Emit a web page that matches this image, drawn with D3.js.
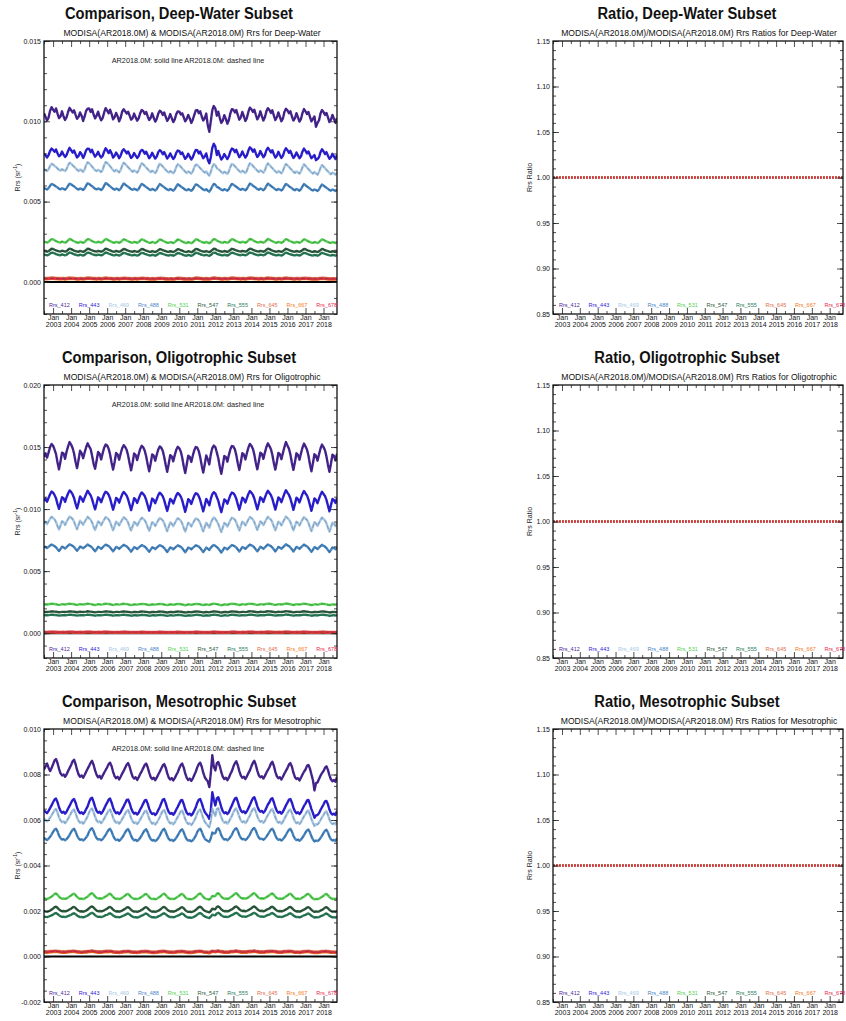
<!DOCTYPE html>
<html>
<head>
<meta charset="utf-8">
<script src="https://cdn.jsdelivr.net/npm/d3@7/dist/d3.min.js"></script>
<style>
  html, body { margin: 0; padding: 0; background: #fff; }
  svg { display: block; }
  text { font-family: "Liberation Sans", Arial, sans-serif; fill: #111; }
</style>
</head>
<body>
<svg id="chart" width="846" height="1021"></svg>
<script>
// Monthly mean Rrs, Jul 2002 - Oct 2018, in units of 1e-5 sr^-1.
const firstMonth = [2002, 6];   // year, zero-based month
const bandNames = ["412", "443", "469", "488", "531", "547", "555", "645", "667", "678"];
const bandColors = ["#4a2894", "#2e22d8", "#a6c8e6", "#4a88c4", "#55d055", "#2f5d40", "#2b7d5a", "#e0704c", "#f47a20", "#e62850"];
const subsetNames = ["Deep-Water", "Oligotrophic", "Mesotrophic"];
const rrsDomains = [[-0.002, 0.015], [-0.002, 0.020], [-0.002, 0.010]];
const rrsMajorStep = [0.005, 0.005, 0.002];
const rrsMinorStep = [0.001, 0.001, 0.0005];
const ratioDomain = [0.85, 1.15];
const ratioTicks = [0.85, 0.90, 0.95, 1.00, 1.05, 1.10, 1.15];
const versionA = "AR2018.0M";
const versionB = "AR2018.0M";

// ---- Deep-Water subset ----
const deep412 = [1050,1028,1005,1022,1065,1088,1072,1060,1080,1048,1020,1030,1062,1030,1008,1025,1058,1084,1070,1055,1068,1040,1015,1028,1055,1035,1002,1030,1066,1078,1080,1058,1075,1042,1018,1035,1060,1028,1006,1020,1055,1082,1066,1050,1072,1045,1012,1026,1052,1030,1000,1022,1060,1075,1062,1048,1060,1035,1010,1020,1048,1025,1004,1018,1050,1070,1064,1046,1058,1030,1008,1022,1050,1022,998,1015,1048,1066,1058,1040,1055,1028,1002,1018,1045,1020,995,1012,1045,1062,1060,1042,1050,1025,1000,1015,1040,1018,990,1010,1040,1068,1070,1050,1062,1030,1005,1020,1048,975,935,1000,1070,1095,1080,1035,1060,1020,990,1005,1038,1015,985,1008,1050,1075,1072,1055,1070,1038,1010,1025,1058,1030,1002,1020,1060,1085,1075,1058,1072,1040,1012,1030,1062,1032,1005,1025,1062,1082,1070,1052,1068,1035,1008,1025,1055,1028,1000,1018,1058,1078,1068,1050,1062,1030,1005,1020,1050,1025,998,1015,1052,1076,1062,1045,1058,1028,1000,1015,1030,965,990,1005,1048,1070,1058,1040,1052,1025,995,1010,1040,1015,990,1020];
const deep443 = [800,788,775,790,815,830,822,810,825,800,782,790,812,792,778,790,815,835,820,805,818,795,775,785,808,795,772,792,820,830,828,808,822,798,780,792,810,788,775,785,812,832,818,802,820,800,774,786,805,790,770,786,815,826,815,800,812,792,772,782,802,786,772,784,810,822,816,798,810,790,770,784,804,784,768,780,808,820,812,795,808,788,768,780,800,782,765,778,805,818,814,796,806,785,766,778,798,780,762,776,802,822,820,800,812,790,770,782,800,760,738,775,835,860,842,790,815,785,762,775,796,780,765,782,812,830,825,808,822,798,776,788,812,792,774,788,818,838,828,810,825,800,778,790,815,795,776,790,820,835,822,806,820,795,774,786,810,790,772,785,815,832,820,804,816,792,772,784,806,788,770,782,812,830,816,800,812,790,770,780,790,758,765,776,808,826,812,796,808,786,766,776,798,780,765,790];
const deep469 = [702,696,690,702,722,735,730,722,716,706,698,692,702,696,690,702,726,742,736,726,718,708,698,690,700,694,686,700,728,745,738,728,718,706,696,690,698,692,684,698,726,746,740,730,720,708,696,688,698,690,682,696,724,742,734,724,714,704,694,686,694,688,680,694,720,738,732,722,712,702,692,684,692,686,678,692,718,736,728,718,708,698,688,680,690,684,676,690,716,732,726,716,706,696,686,678,688,682,674,688,714,730,728,718,708,698,688,680,688,672,662,684,716,734,726,708,702,694,684,676,686,680,672,688,716,734,730,720,710,700,690,682,692,686,678,692,720,738,732,722,712,702,692,684,694,688,680,694,722,738,728,718,708,698,688,680,690,684,676,690,718,734,726,716,706,696,686,678,688,682,674,688,714,732,722,712,702,692,682,674,684,676,668,684,710,728,718,708,698,688,678,670,680,676,668,680];
const deep488 = [584,580,575,584,598,610,606,600,594,588,580,576,583,579,574,583,599,612,608,600,595,587,579,575,582,578,572,582,600,614,610,602,596,588,580,576,582,578,572,581,599,615,610,602,595,587,579,574,581,577,571,580,598,613,606,598,592,585,577,573,580,576,570,579,596,610,605,597,591,584,576,572,579,575,569,578,595,609,603,595,589,582,575,571,578,574,568,577,594,608,602,594,588,581,574,570,577,573,567,576,593,607,604,596,590,582,575,571,577,568,562,575,595,610,606,592,588,581,574,570,577,573,568,578,596,610,606,598,592,585,577,573,580,576,570,579,597,612,607,599,593,586,578,574,581,577,571,580,598,612,605,597,591,584,576,572,579,575,569,578,596,610,604,596,590,583,575,571,578,574,568,577,595,609,602,594,588,581,573,569,576,572,566,575,593,606,600,592,586,579,572,568,575,571,566,576];
const deep531 = [251,248,245,249,258,266,265,259,254,250,246,245,251,248,244,249,259,267,264,258,253,249,245,244,250,247,243,248,258,266,265,259,254,250,246,245,250,248,244,249,258,267,264,258,254,249,245,244,249,247,243,248,257,265,263,257,253,249,245,244,249,247,243,248,257,265,263,257,252,248,244,243,249,246,242,247,256,264,262,256,252,248,244,243,248,246,242,247,256,264,262,256,251,247,243,242,248,245,241,246,256,265,264,258,253,249,245,244,249,245,241,247,258,266,265,257,253,249,245,244,249,247,243,248,258,266,264,258,254,250,246,245,250,248,244,249,259,267,265,259,254,250,246,245,250,248,244,249,259,267,264,258,253,249,245,244,249,247,243,248,258,266,263,257,253,249,245,244,249,247,243,248,257,265,263,257,252,248,244,243,248,246,242,247,257,265,262,256,252,248,244,243,248,246,242,248];
const deep547 = [193,191,188,191,199,206,205,200,196,193,190,189,194,191,188,192,200,207,204,199,195,192,189,188,193,190,187,191,199,206,205,200,196,193,190,189,193,191,188,191,199,207,204,199,196,192,189,188,193,190,187,191,198,205,203,198,195,192,189,188,192,190,187,190,198,205,203,198,195,191,188,187,192,189,186,190,197,204,202,197,194,191,188,187,191,189,186,190,197,204,202,197,194,190,187,186,191,188,185,189,197,205,204,199,195,192,189,188,192,188,185,190,199,206,205,198,195,192,189,188,192,190,187,191,199,206,204,199,196,193,190,189,193,191,188,192,200,207,205,200,196,193,190,189,193,191,188,192,200,207,204,199,195,192,189,188,192,190,187,191,199,206,203,198,195,192,189,188,192,190,187,191,198,205,203,198,194,191,188,187,191,189,186,190,198,205,202,197,194,191,188,187,191,189,186,191];
const deep555 = [170,168,165,168,176,182,181,177,173,170,167,166,171,168,165,169,177,183,180,176,172,169,166,165,170,167,164,168,176,182,181,177,173,170,167,166,170,168,165,168,176,183,180,176,173,169,166,165,170,167,164,168,175,181,179,175,172,169,166,165,169,167,164,167,175,181,179,175,172,168,165,164,169,166,163,167,174,180,178,174,171,168,165,164,168,166,163,167,174,180,178,174,171,167,164,163,168,165,162,166,174,181,180,176,172,169,166,165,169,165,162,167,176,182,181,175,172,169,166,165,169,167,164,168,176,182,180,176,173,170,167,166,170,168,165,169,177,183,181,177,173,170,167,166,170,168,165,169,177,183,180,176,172,169,166,165,169,167,164,168,176,182,179,175,172,169,166,165,169,167,164,168,175,181,179,175,171,168,165,164,168,166,163,167,175,181,178,174,171,168,165,164,168,166,163,168];
const deep645 = [25,24,24,25,26,27,27,26,25,24,24,23,24,24,23,24,26,27,26,26,25,24,23,23,24,24,23,24,26,27,27,26,25,24,24,23,24,25,23,24,26,27,26,25,25,24,23,23,24,24,23,24,25,26,26,25,24,24,23,23,24,24,23,24,25,26,26,25,24,24,23,22,24,23,22,24,25,26,26,25,24,23,23,22,23,23,22,23,25,26,26,25,24,23,23,22,23,23,22,23,25,27,27,26,25,24,23,23,24,23,22,24,26,28,27,25,25,24,23,23,24,24,23,24,26,27,27,26,25,24,24,23,24,24,23,24,26,27,27,26,25,24,24,23,24,24,23,24,26,27,26,26,25,24,23,23,24,24,23,24,26,27,26,25,25,24,23,23,24,24,23,24,25,26,26,25,24,24,23,22,23,23,22,24,25,26,26,25,24,23,23,22,23,23,22,24];
const deep667 = [17,16,16,17,18,19,19,18,17,16,16,15,16,16,15,16,18,19,18,18,17,16,15,15,16,16,15,16,18,19,19,18,17,16,16,15,16,17,15,16,18,19,18,17,17,16,15,15,16,16,15,16,17,18,18,17,16,16,15,15,16,16,15,16,17,18,18,17,16,16,15,14,16,15,14,16,17,18,18,17,16,15,15,14,15,15,14,15,17,18,18,17,16,15,15,14,15,15,14,15,17,19,19,18,17,16,15,15,16,15,14,16,18,20,19,17,17,16,15,15,16,16,15,16,18,19,19,18,17,16,16,15,16,16,15,16,18,19,19,18,17,16,16,15,16,16,15,16,18,19,18,18,17,16,15,15,16,16,15,16,18,19,18,17,17,16,15,15,16,16,15,16,17,18,18,17,16,16,15,14,15,15,14,16,17,18,18,17,16,15,15,14,15,15,14,16];
const deep678 = [20,20,19,20,21,21,21,21,20,19,19,19,19,19,18,19,20,21,21,20,20,19,18,18,19,19,18,19,20,21,21,21,20,19,19,18,19,19,18,19,20,22,21,20,20,19,18,18,19,19,18,19,20,21,21,20,19,19,18,18,19,19,18,19,20,21,21,20,19,19,18,18,19,18,18,19,20,21,20,20,19,18,18,17,18,18,17,18,20,21,20,20,19,18,18,17,18,18,17,18,20,21,21,21,20,19,18,18,19,18,17,19,21,22,21,20,20,19,18,18,19,19,18,19,20,21,21,21,20,19,19,18,19,19,18,19,21,21,21,21,20,19,19,18,19,19,18,19,21,22,21,20,20,19,18,18,19,19,18,19,20,21,21,20,19,19,18,18,19,19,18,19,20,21,20,20,19,19,18,17,18,18,17,19,20,21,20,20,19,18,18,17,18,18,17,19];

// ---- Oligotrophic subset ----
const oligo412 = [1420,1450,1415,1455,1500,1525,1510,1478,1445,1375,1320,1385,1455,1448,1405,1462,1505,1540,1520,1490,1448,1380,1330,1400,1470,1450,1410,1455,1498,1530,1505,1482,1430,1365,1325,1392,1460,1445,1400,1450,1495,1520,1512,1485,1440,1372,1318,1380,1452,1440,1398,1448,1490,1515,1500,1476,1432,1368,1312,1375,1448,1436,1395,1442,1485,1510,1498,1470,1425,1360,1305,1370,1440,1430,1390,1438,1480,1505,1495,1468,1420,1355,1300,1365,1435,1425,1385,1435,1478,1502,1490,1462,1415,1345,1290,1360,1430,1420,1380,1430,1475,1500,1495,1465,1418,1350,1295,1362,1432,1400,1360,1440,1492,1512,1500,1455,1410,1340,1285,1355,1428,1420,1382,1435,1482,1508,1505,1480,1435,1368,1315,1380,1450,1440,1400,1450,1495,1525,1510,1485,1440,1372,1320,1385,1455,1445,1405,1455,1500,1530,1508,1482,1438,1370,1318,1382,1452,1442,1402,1452,1500,1540,1512,1486,1440,1372,1316,1380,1450,1438,1398,1448,1495,1528,1505,1478,1432,1362,1305,1372,1442,1430,1390,1440,1488,1520,1500,1472,1425,1355,1300,1368,1438,1428,1392,1445];
const oligo443 = [1065,1085,1060,1090,1120,1142,1132,1112,1088,1040,1002,1048,1095,1088,1058,1095,1125,1150,1138,1118,1090,1042,1005,1052,1102,1085,1060,1092,1122,1148,1128,1110,1080,1035,998,1045,1095,1082,1055,1088,1120,1140,1132,1114,1085,1038,995,1040,1090,1080,1052,1086,1118,1138,1125,1108,1078,1034,992,1038,1088,1076,1050,1082,1115,1134,1122,1105,1075,1030,988,1035,1085,1074,1048,1080,1112,1132,1120,1102,1072,1026,985,1032,1082,1070,1045,1078,1110,1130,1118,1100,1070,1022,978,1028,1080,1068,1042,1076,1108,1128,1122,1102,1072,1025,982,1030,1082,1060,1030,1082,1120,1136,1125,1095,1066,1018,975,1025,1078,1068,1044,1078,1112,1134,1128,1110,1082,1036,995,1042,1092,1080,1054,1088,1122,1145,1132,1114,1085,1040,998,1045,1095,1084,1058,1092,1125,1148,1130,1112,1084,1038,996,1044,1094,1082,1056,1090,1125,1152,1132,1114,1085,1040,994,1042,1092,1080,1054,1088,1122,1146,1126,1108,1078,1032,986,1036,1086,1074,1048,1082,1116,1140,1122,1104,1074,1028,982,1032,1082,1072,1050,1088];
const oligo469 = [880,898,878,900,922,938,928,916,896,862,835,868,902,894,872,898,920,940,932,920,898,864,838,872,906,892,874,896,918,938,926,914,892,858,832,866,900,890,870,894,916,935,928,916,895,860,830,864,898,888,868,892,915,934,924,912,890,856,828,862,896,886,866,890,912,930,922,910,888,854,825,860,894,884,864,888,910,928,920,908,886,852,822,858,892,882,862,886,908,926,918,906,884,848,818,855,890,880,860,884,906,925,920,908,885,850,820,856,890,872,850,888,915,932,922,902,880,845,815,852,888,878,860,884,910,930,925,914,892,858,828,864,898,888,868,892,916,936,928,916,895,860,832,866,900,890,870,894,918,938,926,915,894,858,830,865,899,889,869,893,918,940,928,916,895,860,828,864,898,888,868,892,916,936,924,912,890,854,822,858,894,884,864,888,912,932,920,908,886,850,818,855,890,882,864,890];
const oligo488 = [688,696,686,696,706,714,708,702,692,676,662,678,697,692,682,694,705,716,710,704,694,678,664,680,698,692,684,694,704,715,706,700,690,674,660,677,696,690,680,692,703,713,708,702,691,675,659,676,695,689,679,691,702,712,705,699,688,672,657,674,693,688,678,690,700,710,704,698,687,671,656,673,692,687,677,689,699,709,703,697,686,670,654,672,691,686,676,688,698,708,702,696,685,668,652,670,690,685,675,687,697,708,703,697,686,669,653,671,690,681,670,689,702,711,704,694,683,666,650,668,689,684,675,687,699,710,706,700,690,674,658,675,694,689,679,691,703,714,708,702,691,675,660,677,696,690,680,692,704,715,707,701,690,674,659,676,695,690,680,692,704,716,708,702,691,675,658,676,695,689,679,691,703,714,705,699,688,671,655,673,693,687,677,689,701,712,703,697,686,669,653,671,691,686,677,690];
const oligo531 = [231,233,231,233,235,237,236,235,233,230,228,230,233,232,231,233,236,237,236,235,233,230,228,231,234,232,231,233,235,238,236,234,232,229,227,230,233,232,230,232,235,237,236,235,233,230,227,230,233,232,230,232,235,237,235,234,232,229,227,229,232,231,230,232,234,236,235,234,232,229,226,229,232,231,230,232,234,236,235,233,231,228,226,229,232,231,229,231,234,236,235,233,231,228,225,228,232,231,229,231,234,236,235,234,232,229,226,229,232,230,228,232,235,237,236,234,231,228,225,228,232,231,229,232,235,237,236,235,233,230,227,230,233,232,231,233,236,238,236,235,233,230,228,230,233,232,231,233,236,238,237,235,233,230,228,230,234,233,231,233,236,239,237,235,233,230,227,230,233,232,231,233,236,238,236,234,232,229,226,229,233,232,230,232,235,237,236,234,232,229,226,229,232,231,230,233];
const oligo547 = [171,172,171,172,174,176,175,174,173,171,169,170,172,172,171,172,174,176,175,174,173,171,169,171,173,172,171,172,174,177,175,174,172,170,168,170,172,172,170,172,174,176,175,174,173,171,168,170,172,172,170,172,174,176,174,173,172,170,168,169,172,171,170,171,173,175,174,173,172,170,167,169,171,171,170,171,173,175,174,173,171,169,167,169,171,171,169,171,173,175,174,173,171,169,167,168,171,170,169,171,173,175,175,174,172,170,167,169,171,170,168,172,174,176,175,174,172,169,167,169,171,171,169,171,174,176,175,174,173,171,168,170,172,172,170,172,175,177,176,175,173,171,169,170,173,172,171,172,175,177,176,175,173,171,169,170,173,172,171,173,175,178,176,175,173,171,168,170,172,172,171,172,175,177,175,174,172,170,168,169,172,171,170,172,174,176,175,174,172,170,167,169,171,171,170,172];
const oligo555 = [144,145,144,145,147,149,148,147,146,144,142,143,145,145,144,145,147,149,148,147,146,144,142,144,146,145,144,145,147,150,148,147,145,143,141,143,145,145,143,145,147,149,148,147,146,144,141,143,145,145,143,145,147,149,147,146,145,143,141,142,145,144,143,144,146,148,147,146,145,143,140,142,144,144,143,144,146,148,147,146,144,142,140,142,144,144,142,144,146,148,147,146,144,142,140,141,144,143,142,144,146,148,148,147,145,143,140,142,144,143,141,145,147,149,148,147,145,142,140,142,144,144,142,144,147,149,148,147,146,144,141,143,145,145,143,145,148,150,149,148,146,144,142,143,146,145,144,145,148,150,149,148,146,144,142,143,146,145,144,146,148,151,149,148,146,144,141,143,145,145,144,145,148,150,148,147,145,143,141,142,145,144,143,145,147,149,148,147,145,143,140,142,144,144,143,145];
const oligo645 = [11,11,10,11,12,12,12,12,11,11,10,10,11,11,10,11,12,12,12,11,11,10,10,10,11,11,10,11,12,12,12,12,11,10,10,10,11,11,10,11,11,12,12,11,11,10,10,9,11,10,10,11,11,12,11,11,11,10,9,9,10,10,10,10,11,12,11,11,10,10,9,9,10,10,9,10,11,12,11,11,10,10,9,9,10,10,9,10,11,11,11,11,10,9,9,9,10,10,9,10,11,12,12,11,11,10,9,9,10,10,9,10,12,12,12,11,11,10,9,9,10,10,10,10,11,12,12,12,11,10,10,10,11,11,10,11,12,12,12,12,11,10,10,10,11,11,10,11,12,13,12,12,11,11,10,10,11,11,10,11,12,13,12,12,11,10,10,10,11,11,10,11,12,12,12,11,11,10,9,9,10,10,10,11,11,12,12,11,11,10,9,9,10,10,10,11];
const oligo667 = [6,6,6,6,7,7,7,7,6,6,5,5,6,6,6,6,7,7,7,6,6,6,5,5,6,6,5,6,7,7,7,7,6,6,5,5,6,6,5,6,6,7,7,6,6,6,5,5,6,6,5,6,6,7,6,6,6,5,5,5,6,6,5,6,6,7,6,6,6,5,5,5,6,5,5,6,6,7,6,6,6,5,5,4,5,5,5,6,6,6,6,6,6,5,5,4,5,5,5,6,6,7,7,6,6,5,5,5,6,5,5,6,7,7,7,6,6,5,5,5,6,6,5,6,6,7,7,7,6,6,5,5,6,6,6,6,7,7,7,7,6,6,5,5,6,6,6,6,7,7,7,7,6,6,5,5,6,6,6,6,7,8,7,7,6,6,5,5,6,6,5,6,7,7,7,6,6,6,5,5,6,6,5,6,6,7,7,6,6,5,5,5,6,6,5,6];
const oligo678 = [8,8,8,8,9,9,9,9,8,8,7,7,8,8,8,8,9,9,9,9,8,8,7,7,8,8,7,8,9,9,9,9,8,8,7,7,8,8,7,8,9,9,9,8,8,7,7,7,8,8,7,8,8,9,9,8,8,7,7,7,8,8,7,8,8,9,8,8,8,7,7,6,7,7,7,8,8,9,8,8,8,7,7,6,7,7,7,7,8,9,8,8,8,7,6,6,7,7,7,7,8,9,9,8,8,7,7,6,7,7,6,8,9,9,9,8,8,7,7,6,7,7,7,8,8,9,9,9,8,8,7,7,8,8,7,8,9,9,9,9,8,8,7,7,8,8,8,8,9,10,9,9,8,8,7,7,8,8,8,8,9,10,9,9,8,8,7,7,8,8,7,8,9,9,9,8,8,7,7,6,8,7,7,8,8,9,9,8,8,7,7,6,7,7,7,8];

// ---- Mesotrophic subset ----
const meso412 = [822,835,848,830,815,828,845,862,868,850,825,805,796,800,790,800,815,828,842,858,865,846,820,800,790,796,786,798,812,825,838,852,860,842,818,798,788,794,782,795,808,820,832,846,852,836,812,792,784,790,778,790,804,816,830,844,850,834,810,790,782,788,776,788,802,814,828,842,848,832,808,788,780,786,775,786,800,812,826,840,846,830,806,786,778,784,774,784,798,810,828,842,848,830,805,785,776,782,772,782,798,812,832,846,852,834,808,788,778,770,745,805,885,835,818,850,855,836,810,790,780,786,775,786,802,815,835,850,858,840,815,795,786,790,780,792,806,818,836,852,860,842,816,796,788,792,782,794,808,820,832,848,856,838,812,792,784,788,778,790,804,816,828,844,850,834,808,788,780,784,774,786,800,812,822,838,842,826,800,775,730,762,765,780,795,806,815,830,836,820,796,778,770,776,768,790];
const meso443 = [642,636,630,640,652,664,678,690,694,678,656,640,632,636,628,636,650,662,676,688,692,676,654,638,630,634,626,634,648,660,680,694,698,680,658,640,632,636,628,636,650,664,676,690,694,676,654,638,630,634,626,634,648,660,674,688,690,674,652,636,628,632,624,632,646,658,672,686,688,672,650,634,626,630,622,630,644,656,674,690,692,674,652,635,627,631,623,632,646,658,672,686,688,670,648,632,624,628,620,628,642,656,676,690,692,674,652,635,626,618,605,640,722,690,664,696,700,680,656,638,630,634,626,634,650,664,680,694,698,680,658,642,634,638,630,638,652,666,682,696,700,682,660,644,636,640,632,640,654,668,678,692,696,678,656,640,632,636,628,636,650,664,676,690,692,676,654,638,630,634,626,634,648,662,672,686,688,670,648,630,610,620,622,630,644,656,668,682,684,668,646,630,624,628,622,640];
const meso469 = [606,600,594,600,610,620,632,644,648,632,612,598,590,594,586,594,606,618,630,642,646,630,610,596,588,592,584,592,604,616,634,646,650,634,614,598,590,594,586,594,606,618,630,642,646,630,610,596,588,592,584,592,604,616,628,640,644,628,608,594,586,590,582,590,602,614,626,638,642,626,606,592,584,588,580,588,600,612,628,640,644,628,608,593,585,589,581,589,602,614,626,638,642,624,604,590,582,586,578,586,598,612,630,642,646,628,608,592,584,576,568,596,650,632,618,648,652,632,612,596,588,592,584,592,606,618,634,646,650,634,614,598,590,594,586,594,608,620,636,648,652,636,616,600,592,596,588,596,610,622,632,644,648,632,612,596,588,592,584,592,606,618,630,642,646,630,610,594,586,590,582,590,604,616,626,638,642,624,604,588,574,582,580,588,600,612,622,634,638,622,602,588,582,586,580,598];
const meso488 = [522,516,512,518,526,536,548,558,562,550,532,520,514,516,511,516,524,534,547,557,561,549,531,519,513,515,510,515,523,533,550,560,564,551,533,520,514,516,511,516,525,535,547,557,561,549,531,518,512,514,509,514,523,533,546,556,560,548,530,517,511,513,508,513,522,532,545,555,559,547,529,516,510,512,507,512,521,531,546,557,561,548,530,517,511,513,508,513,522,532,545,555,559,546,528,515,509,511,506,511,520,531,548,558,562,549,531,518,512,508,504,520,545,540,542,560,564,552,533,520,514,516,511,516,525,535,550,560,564,552,534,521,515,517,512,517,526,536,551,561,565,553,535,522,516,518,513,518,527,537,548,558,562,550,532,519,513,515,510,515,524,534,547,557,561,549,531,518,512,514,509,514,523,533,545,555,558,546,528,514,506,510,507,512,521,531,543,553,557,545,527,515,510,512,508,520];
const meso531 = [256,254,253,255,259,263,269,275,277,271,263,257,254,255,253,255,259,264,268,274,276,270,262,256,253,255,252,255,259,263,270,276,278,272,264,258,255,256,254,256,260,264,268,274,276,270,262,256,253,255,252,254,258,263,268,274,275,269,261,256,253,254,252,254,258,262,267,273,275,269,261,255,252,254,251,254,258,262,268,274,276,270,262,256,253,254,252,254,258,263,267,273,275,269,260,255,252,253,251,253,257,262,269,275,277,271,262,256,253,252,250,256,266,265,266,276,278,272,263,257,254,255,253,255,260,264,270,276,278,272,264,258,255,256,254,256,260,265,270,276,278,272,264,258,255,256,254,256,261,265,269,275,277,271,263,257,254,255,253,255,259,264,268,274,276,270,262,256,253,255,252,255,259,263,268,274,275,269,261,255,251,253,252,254,258,262,267,273,275,269,261,256,253,254,252,257];
const meso547 = [200,198,197,199,202,206,211,217,219,214,207,202,199,200,198,200,203,207,210,216,218,213,206,201,198,199,197,199,202,206,212,218,220,215,208,202,199,200,198,200,203,207,210,216,218,213,206,201,198,199,197,199,202,206,210,215,217,212,205,200,197,198,196,198,201,205,209,215,217,212,205,200,197,198,196,198,201,205,210,216,218,213,206,201,198,199,197,199,202,206,209,215,217,212,204,199,196,197,195,197,200,205,211,217,219,214,206,201,198,196,194,200,210,208,208,218,220,215,207,202,199,200,198,200,204,207,212,218,220,215,208,203,200,201,199,201,204,208,212,218,220,215,208,203,200,201,199,201,205,208,211,217,219,214,207,202,199,200,198,200,203,207,210,216,218,213,206,201,198,199,197,199,203,206,210,215,217,212,205,200,196,198,197,198,202,205,209,215,217,212,205,200,197,198,196,201];
const meso555 = [175,174,173,175,178,181,184,189,191,187,181,177,174,175,173,175,178,181,183,188,190,186,180,176,173,174,172,174,177,180,185,190,192,188,182,177,174,175,173,175,178,182,183,188,190,186,180,176,173,174,172,174,177,180,183,187,189,185,179,175,172,173,171,173,176,180,182,187,189,185,179,175,172,173,171,173,176,179,183,188,190,186,180,176,173,174,172,174,177,180,182,187,189,185,178,174,171,172,170,172,175,179,184,189,191,187,180,176,173,171,169,175,184,182,181,190,192,188,181,177,174,175,173,175,179,182,185,190,192,188,182,178,175,176,174,176,179,182,185,190,192,188,182,178,175,176,174,176,180,183,184,189,191,187,181,177,174,175,173,175,178,181,183,188,190,186,180,176,173,174,172,174,178,181,183,187,189,185,179,175,171,173,172,173,177,180,182,187,189,185,179,175,172,173,171,176];
const meso645 = [23,23,22,23,24,24,25,26,26,25,24,23,22,23,22,23,24,24,25,26,26,25,23,23,22,22,22,23,23,24,25,26,27,25,24,23,22,23,22,23,24,25,25,25,26,25,23,22,22,22,21,22,23,24,24,25,26,24,23,22,22,22,21,22,23,24,24,25,25,24,23,22,21,22,21,22,23,24,25,25,26,24,23,22,22,22,21,22,23,24,24,25,25,24,23,22,21,22,21,22,23,24,25,26,26,25,23,22,22,21,20,23,26,25,24,26,27,25,24,23,22,22,22,22,24,24,25,26,27,25,24,23,22,23,22,23,24,25,25,26,27,25,24,23,22,23,22,23,24,25,25,26,26,25,24,23,22,22,22,23,24,24,25,25,26,25,23,22,22,22,21,22,23,24,24,25,26,24,23,22,21,22,21,22,23,24,24,25,25,24,23,22,22,22,21,23];
const meso667 = [17,17,16,17,18,18,19,20,20,19,18,17,16,17,16,17,18,18,19,20,20,19,17,17,16,16,16,17,17,18,19,20,21,19,18,17,16,17,16,17,18,19,19,19,20,19,17,16,16,16,15,16,17,18,18,19,20,18,17,16,16,16,15,16,17,18,18,19,19,18,17,16,15,16,15,16,17,18,19,19,20,18,17,16,16,16,15,16,17,18,18,19,19,18,17,16,15,16,15,16,17,18,19,20,20,19,17,16,16,15,14,17,20,19,18,20,21,19,18,17,16,16,16,16,18,18,19,20,21,19,18,17,16,17,16,17,18,19,19,20,21,19,18,17,16,17,16,17,18,19,19,20,20,19,18,17,16,16,16,17,18,18,19,19,20,19,17,16,16,16,15,16,17,18,18,19,20,18,17,16,15,16,15,16,17,18,18,19,19,18,17,16,16,16,15,17];
const meso678 = [20,20,19,20,21,21,22,23,23,22,21,20,19,20,19,20,21,21,22,23,23,22,20,20,19,19,19,20,20,21,22,23,24,22,21,20,19,20,19,20,21,22,22,22,23,22,20,19,19,19,18,19,20,21,21,22,23,21,20,19,19,19,18,19,20,21,21,22,22,21,20,19,18,19,18,19,20,21,22,22,23,21,20,19,19,19,18,19,20,21,21,22,22,21,20,19,18,19,18,19,20,21,22,23,23,22,20,19,19,18,17,20,23,22,21,23,24,22,21,20,19,19,19,19,21,21,22,23,24,22,21,20,19,20,19,20,21,22,22,23,24,22,21,20,19,20,19,20,21,22,22,23,23,22,21,20,19,19,19,20,21,21,22,22,23,22,20,19,19,19,18,19,20,21,21,22,23,21,20,19,18,19,18,19,20,21,21,22,22,21,20,19,19,19,18,20];

// Per-subset tables (one row per band, in bandNames order)
const subsetSeries = [
  [deep412, deep443, deep469, deep488, deep531, deep547, deep555, deep645, deep667, deep678],
  [oligo412, oligo443, oligo469, oligo488, oligo531, oligo547, oligo555, oligo645, oligo667, oligo678],
  [meso412, meso443, meso469, meso488, meso531, meso547, meso555, meso645, meso667, meso678]
];
const UNIT = 1e-5;

// ---------------------------------------------------------------
const svg = d3.select("#chart");
svg.append("rect").attr("width", 846).attr("height", 1021).attr("fill", "#fff");

const nMonths = deep412.length;
const months = d3.range(nMonths).map(i => d3.timeMonth.offset(new Date(firstMonth[0], firstMonth[1], 1), i));
const janTicks = d3.timeYear.range(new Date(2003, 0, 1), new Date(2018, 1, 1));
const julTicks = d3.timeMonth.range(months[0], months[nMonths - 1]).filter(d => d.getMonth() === 6);

const ROW_STEP = 344;
const leftCol = { x0: 44, x1: 337, titleX: 179, subX: 192, noteX: 188, legendStep: 29.7, legendPad: 5 };
const rightCol = { x0: 553, x1: 843, titleX: 687, subX: 699, legendStep: 29.5, legendPad: 6 };

function stepValues(domain, step) {
  const a = Math.ceil(domain[0] / step - 1e-6), b = Math.floor(domain[1] / step + 1e-6);
  return d3.range(a, b + 1).map(k => +(k * step).toFixed(6));
}

const titles = [];

function drawFrame(g, x, y, col, top, bottom, yMajor, yMinor, fmt) {
  // left axis with labels
  g.append("g").attr("transform", `translate(${col.x0},0)`)
    .call(d3.axisLeft(y).tickValues(yMajor).tickSize(-6).tickSizeOuter(0).tickPadding(3).tickFormat(fmt))
    .call(s => s.select(".domain").remove())
    .call(s => s.selectAll("text").attr("font-size", 7).attr("font-family", "Liberation Sans, Arial, sans-serif").attr("fill", "#222"));
  g.append("g").attr("transform", `translate(${col.x0},0)`)
    .call(d3.axisLeft(y).tickValues(yMinor).tickSize(-3).tickSizeOuter(0).tickFormat(""))
    .call(s => s.select(".domain").remove());
  // right mirror
  g.append("g").attr("transform", `translate(${col.x1},0)`)
    .call(d3.axisRight(y).tickValues(yMajor).tickSize(-6).tickSizeOuter(0).tickFormat(""))
    .call(s => s.select(".domain").remove());
  g.append("g").attr("transform", `translate(${col.x1},0)`)
    .call(d3.axisRight(y).tickValues(yMinor).tickSize(-3).tickSizeOuter(0).tickFormat(""))
    .call(s => s.select(".domain").remove());
  // top
  g.append("g").attr("transform", `translate(0,${top})`)
    .call(d3.axisTop(x).tickValues(janTicks).tickSize(-6).tickSizeOuter(0).tickFormat(""))
    .call(s => s.select(".domain").remove());
  g.append("g").attr("transform", `translate(0,${top})`)
    .call(d3.axisTop(x).tickValues(julTicks).tickSize(-3).tickSizeOuter(0).tickFormat(""))
    .call(s => s.select(".domain").remove());
  // bottom with two-line labels
  g.append("g").attr("transform", `translate(0,${bottom})`)
    .call(d3.axisBottom(x).tickValues(janTicks).tickSize(-6).tickSizeOuter(0).tickFormat(d3.timeFormat("%Y")))
    .call(s => s.select(".domain").remove())
    .call(s => s.selectAll(".tick text").each(function (d) {
      const t = d3.select(this);
      t.text(null).attr("y", 0).attr("dy", null).attr("font-size", 7)
        .attr("font-family", "Liberation Sans, Arial, sans-serif").attr("fill", "#222");
      t.append("tspan").attr("x", 0).attr("y", 6).text("Jan");
      t.append("tspan").attr("x", 0).attr("y", 12.5).text(d.getFullYear());
    }));
  g.append("g").attr("transform", `translate(0,${bottom})`)
    .call(d3.axisBottom(x).tickValues(julTicks).tickSize(-3).tickSizeOuter(0).tickFormat(""))
    .call(s => s.select(".domain").remove());
  g.selectAll(".tick line").attr("stroke", "#222").attr("stroke-width", 0.8);
  // box
  g.append("rect").attr("x", col.x0).attr("y", top)
    .attr("width", col.x1 - col.x0).attr("height", bottom - top)
    .attr("fill", "none").attr("stroke", "#111").attr("stroke-width", 1.3);
}

function drawLegend(g, col, bottom) {
  const lx = d3.scaleLinear().domain([0, bandNames.length - 1])
    .range([col.x0 + col.legendPad, col.x0 + col.legendPad + col.legendStep * (bandNames.length - 1)]);
  g.selectAll(null).data(bandNames).join("text")
    .attr("x", (d, i) => lx(i)).attr("y", bottom - 7)
    .attr("font-size", 5.5)
    .style("fill", (d, i) => bandColors[i])
    .text(d => "Rrs_" + d);
}

function drawTitles(g, col, row, titleText, subText) {
  titles.push(g.append("text").attr("x", col.titleX).attr("y", 19 + row * ROW_STEP)
    .attr("text-anchor", "middle").attr("font-size", 16).attr("font-weight", "bold")
    .attr("font-family", "'Noto Sans CJK KR', 'Noto Sans', sans-serif")
    .style("fill", "#111").text(titleText).node());
  g.append("text").attr("x", col.subX).attr("y", 35.5 + row * ROW_STEP)
    .attr("text-anchor", "middle").attr("font-size", 8.6)
    .style("fill", "#111").text(subText);
}

subsetNames.forEach((name, row) => {
  const top = 41 + row * ROW_STEP, bottom = 314 + row * ROW_STEP;
  const series = subsetSeries[row];

  // ---- Comparison panel ----
  const gL = svg.append("g");
  const x = d3.scaleTime().domain([months[0], months[nMonths - 1]]).range([leftCol.x0, leftCol.x1]);
  const y = d3.scaleLinear().domain(rrsDomains[row]).range([bottom, top]);
  const clipId = "clipL" + row;
  gL.append("clipPath").attr("id", clipId).append("rect")
    .attr("x", leftCol.x0).attr("y", top).attr("width", leftCol.x1 - leftCol.x0).attr("height", bottom - top);

  drawTitles(gL, leftCol, row, `Comparison, ${name} Subset`,
    `MODISA(${versionA}) & MODISA(${versionB})  Rrs for ${name}`);

  const plot = gL.append("g").attr("clip-path", `url(#${clipId})`);
  plot.append("line").attr("x1", leftCol.x0).attr("x2", leftCol.x1)
    .attr("y1", y(0)).attr("y2", y(0)).attr("stroke", "#000").attr("stroke-width", 2);

  const line = d3.line().x((d, i) => x(months[i])).y(d => y(d * UNIT));
  series.forEach((vals, b) => {
    plot.append("path").datum(vals).attr("d", line)
      .attr("fill", "none").attr("stroke", bandColors[b]).attr("stroke-width", 2.4)
      .attr("stroke-linejoin", "round");
  });
  series.forEach((vals, b) => {
    plot.append("path").datum(vals).attr("d", line)
      .attr("fill", "none").attr("stroke", d3.color(bandColors[b]).darker(0.6).formatHex())
      .attr("stroke-width", 1.1).attr("stroke-dasharray", "4,2").attr("stroke-linejoin", "round");
  });

  drawFrame(gL, x, y, leftCol, top, bottom,
    stepValues(rrsDomains[row], rrsMajorStep[row]),
    stepValues(rrsDomains[row], rrsMinorStep[row]),
    d => d3.format(".3f")(d).replace("\u2212", "-"));

  gL.append("text").attr("x", leftCol.noteX).attr("y", top + 21.5)
    .attr("text-anchor", "middle").attr("font-size", 7.3).style("fill", "#222")
    .text(`${versionA}: solid line   ${versionB}: dashed line`);

  const yt = gL.append("text").attr("transform", `translate(20,${(top + bottom) / 2}) rotate(-90)`)
    .attr("text-anchor", "middle").attr("font-size", 7).style("fill", "#222");
  yt.append("tspan").text("Rrs (sr");
  yt.append("tspan").attr("font-size", 5).attr("dy", -3).text("-1");
  yt.append("tspan").attr("dy", 3).text(")");

  drawLegend(gL, leftCol, bottom);

  // ---- Ratio panel ----
  const gR = svg.append("g");
  const xr = d3.scaleTime().domain([months[0], months[nMonths - 1]]).range([rightCol.x0, rightCol.x1]);
  const yr = d3.scaleLinear().domain(ratioDomain).range([bottom, top]);
  drawTitles(gR, rightCol, row, `Ratio, ${name} Subset`,
    `MODISA(${versionA})/MODISA(${versionB})  Rrs Ratios for ${name}`);

  const ratioLine = d3.line().x((d, i) => xr(months[i])).y(d => yr(d));
  series.forEach((vals, b) => {
    const ratio = vals.map((v, i) => v / vals[i]);
    gR.append("path").datum(ratio).attr("d", ratioLine)
      .attr("fill", "none").attr("stroke", bandColors[b]).attr("stroke-width", 2)
      .attr("stroke-dasharray", "1.6,1.4");
  });

  drawFrame(gR, xr, yr, rightCol, top, bottom,
    ratioTicks, stepValues(ratioDomain, 0.01), d3.format(".2f"));

  gR.append("text").attr("transform", `translate(532,${(top + bottom) / 2}) rotate(-90)`)
    .attr("text-anchor", "middle").attr("font-size", 7).style("fill", "#222").text("Rrs Ratio");

  drawLegend(gR, rightCol, bottom);
});

// Titles use a condensed bold face of fixed width
const titleScale = 228 / titles[0].getComputedTextLength();
titles.forEach(n => {
  n.setAttribute("textLength", n.getComputedTextLength() * titleScale);
  n.setAttribute("lengthAdjust", "spacingAndGlyphs");
});
</script>
</body>
</html>
